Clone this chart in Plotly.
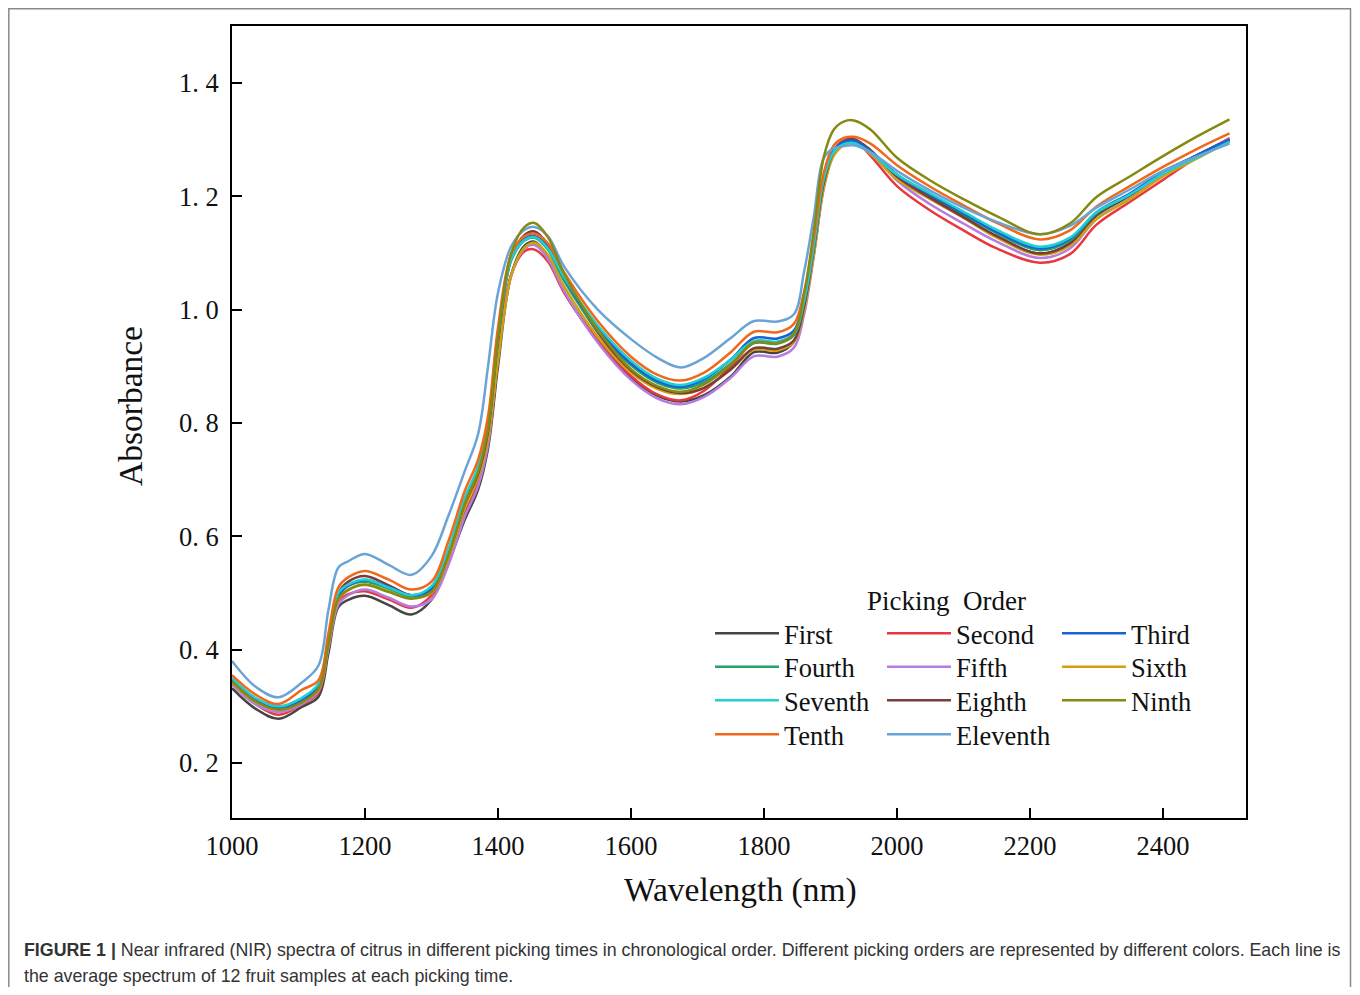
import plotly.graph_objects as go

wavelength = [1000, 1035, 1070, 1105, 1130, 1145, 1160, 1175, 1200, 1235, 1270, 1300, 1325, 1350,
              1370, 1385, 1400, 1420, 1440, 1455, 1475, 1500, 1550, 1600, 1640, 1675, 1710, 1750,
              1785, 1820, 1845, 1860, 1875, 1890, 1905, 1920, 1935, 1960, 2000, 2050, 2100, 2150,
              2215, 2260, 2300, 2350, 2400, 2450, 2500]

first = [0.332, 0.296, 0.278, 0.299, 0.317, 0.394, 0.475, 0.488, 0.495, 0.479, 0.462, 0.488, 0.552, 0.629,
         0.682, 0.755, 0.900, 1.062, 1.113, 1.120, 1.093, 1.030, 0.945, 0.880, 0.848, 0.838, 0.849, 0.882,
         0.925, 0.924, 0.943, 1.000, 1.100, 1.220, 1.279, 1.296, 1.300, 1.280, 1.235, 1.200, 1.165, 1.129,
         1.099, 1.117, 1.166, 1.201, 1.241, 1.272, 1.302]
second = [0.340, 0.304, 0.285, 0.303, 0.324, 0.405, 0.485, 0.498, 0.503, 0.489, 0.474, 0.496, 0.560, 0.640,
          0.694, 0.765, 0.915, 1.062, 1.103, 1.106, 1.085, 1.029, 0.947, 0.883, 0.850, 0.840, 0.857, 0.900,
          0.942, 0.941, 0.958, 1.015, 1.110, 1.225, 1.282, 1.297, 1.299, 1.272, 1.218, 1.175, 1.140, 1.108,
          1.083, 1.098, 1.150, 1.190, 1.229, 1.268, 1.303]
third = [0.345, 0.312, 0.297, 0.311, 0.336, 0.415, 0.495, 0.513, 0.523, 0.511, 0.496, 0.508, 0.572, 0.665,
         0.722, 0.800, 0.960, 1.092, 1.125, 1.130, 1.110, 1.055, 0.967, 0.905, 0.874, 0.864, 0.877, 0.912,
         0.950, 0.949, 0.963, 1.020, 1.120, 1.235, 1.282, 1.296, 1.298, 1.280, 1.238, 1.203, 1.170, 1.137,
         1.108, 1.125, 1.172, 1.205, 1.243, 1.272, 1.300]
fourth = [0.348, 0.314, 0.299, 0.313, 0.338, 0.418, 0.497, 0.513, 0.520, 0.508, 0.494, 0.507, 0.570, 0.662,
          0.718, 0.793, 0.950, 1.087, 1.122, 1.127, 1.106, 1.050, 0.963, 0.902, 0.871, 0.861, 0.872, 0.905,
          0.941, 0.940, 0.955, 1.012, 1.112, 1.230, 1.280, 1.294, 1.296, 1.279, 1.238, 1.203, 1.169, 1.135,
          1.105, 1.122, 1.170, 1.203, 1.241, 1.270, 1.298]
fifth = [0.338, 0.304, 0.290, 0.304, 0.327, 0.403, 0.480, 0.496, 0.506, 0.492, 0.476, 0.489, 0.548, 0.635,
         0.688, 0.762, 0.915, 1.060, 1.108, 1.114, 1.090, 1.032, 0.942, 0.876, 0.843, 0.833, 0.846, 0.880,
         0.918, 0.917, 0.933, 0.990, 1.095, 1.215, 1.278, 1.297, 1.301, 1.280, 1.228, 1.186, 1.152, 1.120,
         1.091, 1.108, 1.160, 1.196, 1.238, 1.270, 1.302]
sixth = [0.342, 0.308, 0.294, 0.307, 0.330, 0.408, 0.488, 0.505, 0.514, 0.503, 0.492, 0.500, 0.560, 0.650,
         0.703, 0.772, 0.910, 1.060, 1.110, 1.118, 1.097, 1.040, 0.952, 0.889, 0.860, 0.851, 0.862, 0.894,
         0.929, 0.928, 0.943, 0.998, 1.098, 1.215, 1.272, 1.290, 1.294, 1.275, 1.230, 1.195, 1.162, 1.127,
         1.097, 1.113, 1.160, 1.195, 1.235, 1.266, 1.297]
seventh = [0.350, 0.315, 0.300, 0.315, 0.340, 0.420, 0.500, 0.515, 0.524, 0.510, 0.496, 0.512, 0.577, 0.668,
           0.722, 0.798, 0.955, 1.090, 1.123, 1.128, 1.108, 1.056, 0.972, 0.910, 0.878, 0.867, 0.880, 0.912,
           0.945, 0.944, 0.958, 1.015, 1.115, 1.232, 1.279, 1.292, 1.294, 1.277, 1.238, 1.205, 1.173, 1.141,
           1.111, 1.127, 1.172, 1.203, 1.240, 1.268, 1.296]
eighth = [0.345, 0.311, 0.296, 0.311, 0.337, 0.417, 0.500, 0.520, 0.530, 0.514, 0.496, 0.505, 0.567, 0.657,
          0.710, 0.785, 0.945, 1.090, 1.132, 1.138, 1.115, 1.055, 0.960, 0.893, 0.863, 0.853, 0.862, 0.895,
          0.932, 0.931, 0.946, 1.005, 1.108, 1.225, 1.280, 1.298, 1.301, 1.282, 1.235, 1.197, 1.163, 1.130,
          1.099, 1.117, 1.168, 1.203, 1.242, 1.272, 1.300]
ninth = [0.344, 0.309, 0.294, 0.307, 0.331, 0.410, 0.490, 0.506, 0.515, 0.502, 0.490, 0.502, 0.565, 0.657,
         0.713, 0.790, 0.952, 1.100, 1.146, 1.153, 1.128, 1.062, 0.965, 0.895, 0.865, 0.855, 0.868, 0.903,
         0.942, 0.941, 0.958, 1.025, 1.140, 1.270, 1.318, 1.332, 1.334, 1.318, 1.268, 1.228, 1.195, 1.165,
         1.133, 1.152, 1.199, 1.235, 1.271, 1.305, 1.336]
tenth = [0.355, 0.321, 0.304, 0.329, 0.346, 0.429, 0.510, 0.528, 0.539, 0.524, 0.506, 0.520, 0.590, 0.680,
         0.735, 0.812, 0.968, 1.098, 1.130, 1.134, 1.117, 1.065, 0.980, 0.917, 0.885, 0.875, 0.889, 0.925,
         0.961, 0.960, 0.975, 1.030, 1.128, 1.242, 1.290, 1.303, 1.305, 1.293, 1.255, 1.217, 1.184, 1.153,
         1.124, 1.140, 1.182, 1.218, 1.252, 1.283, 1.311]
eleventh = [0.380, 0.335, 0.316, 0.342, 0.372, 0.470, 0.545, 0.556, 0.569, 0.550, 0.532, 0.565, 0.635, 0.715,
            0.780, 0.900, 1.030, 1.112, 1.141, 1.146, 1.130, 1.075, 1.000, 0.948, 0.915, 0.898, 0.915, 0.950,
            0.980, 0.979, 0.992, 1.065, 1.165, 1.268, 1.285, 1.289, 1.290, 1.278, 1.245, 1.210, 1.180, 1.155,
            1.133, 1.148, 1.180, 1.212, 1.245, 1.270, 1.293]

series_names = ["First", "Second", "Third", "Fourth", "Fifth", "Sixth",
                "Seventh", "Eighth", "Ninth", "Tenth", "Eleventh"]
series_values = [first, second, third, fourth, fifth, sixth,
                 seventh, eighth, ninth, tenth, eleventh]
series_colors = ["#454545", "#e8383d", "#1862d6", "#22a468", "#b67ce0", "#d0a010",
                 "#1fcfd2", "#7b3c3c", "#868a12", "#f0691a", "#6aa4d6"]

y_tickvals = [0.2, 0.4, 0.6, 0.8, 1.0, 1.2, 1.4]
y_ticktext = ["0. 2", "0. 4", "0. 6", "0. 8", "1. 0", "1. 2", "1. 4"]
x_tickvals = [1000, 1200, 1400, 1600, 1800, 2000, 2200, 2400]

SERIF = "Liberation Serif, Times New Roman, serif"
SANS = "Liberation Sans, Arial, sans-serif"

# page pixel coordinates of the plot area (page has an 8px body margin on every side)
OFF = 8
L, R, T, B = 232, 1246, 26, 818
W_PX, H_PX = 1360 - 2 * OFF, 995 - 2 * OFF
pw, ph = R - L, B - T


def px_x(p):
    return (p - L) / pw


def px_y(p):
    return (B - p) / ph


def legend_key(i):
    return "legend" if i == 0 else "legend%d" % (i + 1)


fig = go.Figure()
draw_order = [0, 1, 4, 5, 7, 3, 2, 6, 9, 10, 8]
for i in draw_order:
    fig.add_trace(go.Scatter(
        x=wavelength, y=series_values[i], name=series_names[i], mode="lines",
        line=dict(color=series_colors[i], width=2.5, shape="spline", smoothing=1.0),
        legend=legend_key(i),
    ))

# legend grid: 3 columns x 4 rows, one legend box per entry
col_x = [710, 882, 1057]
row_y = [634, 667.5, 701, 735]
legend_layouts = {}
for i in range(len(series_names)):
    c, r = i % 3, i // 3
    legend_layouts[legend_key(i)] = dict(
        x=px_x(col_x[c]), y=px_y(row_y[r] - 24.5), xanchor="left", yanchor="top",
        bgcolor="rgba(0,0,0,0)", font=dict(family=SERIF, size=26.5, color="#111"),
        itemwidth=64,
    )

fig.update_layout(
    width=W_PX, height=H_PX,
    margin=dict(l=L - OFF, r=W_PX - (R - OFF), t=T - OFF, b=H_PX - (B - OFF)),
    paper_bgcolor="white", plot_bgcolor="white",
    showlegend=True,
    **legend_layouts,
    xaxis=dict(
        range=[1000, 2524.8], tickvals=x_tickvals,
        showline=True, linecolor="black", linewidth=2, mirror=True,
        ticks="inside", ticklen=10, tickwidth=2, tickcolor="black",
        showgrid=False, zeroline=False,
        tickfont=dict(family=SERIF, size=26.5, color="#111"),
        ticklabelstandoff=3,
    ),
    yaxis=dict(
        range=[0.1029, 1.5006], tickvals=y_tickvals, ticktext=y_ticktext,
        showline=True, linecolor="black", linewidth=2, mirror=True,
        ticks="inside", ticklen=10, tickwidth=2, tickcolor="black",
        showgrid=False, zeroline=False,
        tickfont=dict(family=SERIF, size=26.5, color="#111"),
        ticklabelstandoff=6,
    ),
    shapes=[dict(type="rect", xref="paper", yref="paper",
                 x0=px_x(8.8), x1=px_x(1350.5), y0=px_y(1010), y1=px_y(8.8),
                 line=dict(color="#8a8a8a", width=1.5), fillcolor="rgba(0,0,0,0)", layer="above")],
    annotations=[
        dict(text="Wavelength (nm)", xref="paper", yref="paper", x=px_x(740), y=px_y(890),
             xanchor="center", yanchor="middle", showarrow=False,
             font=dict(family=SERIF, size=33.5, color="#111")),
        dict(text="Absorbance", xref="paper", yref="paper", x=px_x(130), y=px_y(406),
             xanchor="center", yanchor="middle", showarrow=False, textangle=-90,
             font=dict(family=SERIF, size=33.5, color="#111")),
        dict(text="Picking  Order", xref="paper", yref="paper", x=px_x(946), y=px_y(601),
             xanchor="center", yanchor="middle", showarrow=False,
             font=dict(family=SERIF, size=27, color="#111")),
        dict(text="<b>FIGURE 1 |</b> Near infrared (NIR) spectra of citrus in different picking times in chronological order. "
                  "Different picking orders are represented by different colors. Each line is",
             xref="paper", yref="paper", x=px_x(22), y=px_y(950), xanchor="left", yanchor="middle",
             showarrow=False, font=dict(family=SANS, size=17.8, color="#333")),
        dict(text="the average spectrum of 12 fruit samples at each picking time.",
             xref="paper", yref="paper", x=px_x(22), y=px_y(976), xanchor="left", yanchor="middle",
             showarrow=False, font=dict(family=SANS, size=17.8, color="#333")),
    ],
)

fig.write_html("out.html")
